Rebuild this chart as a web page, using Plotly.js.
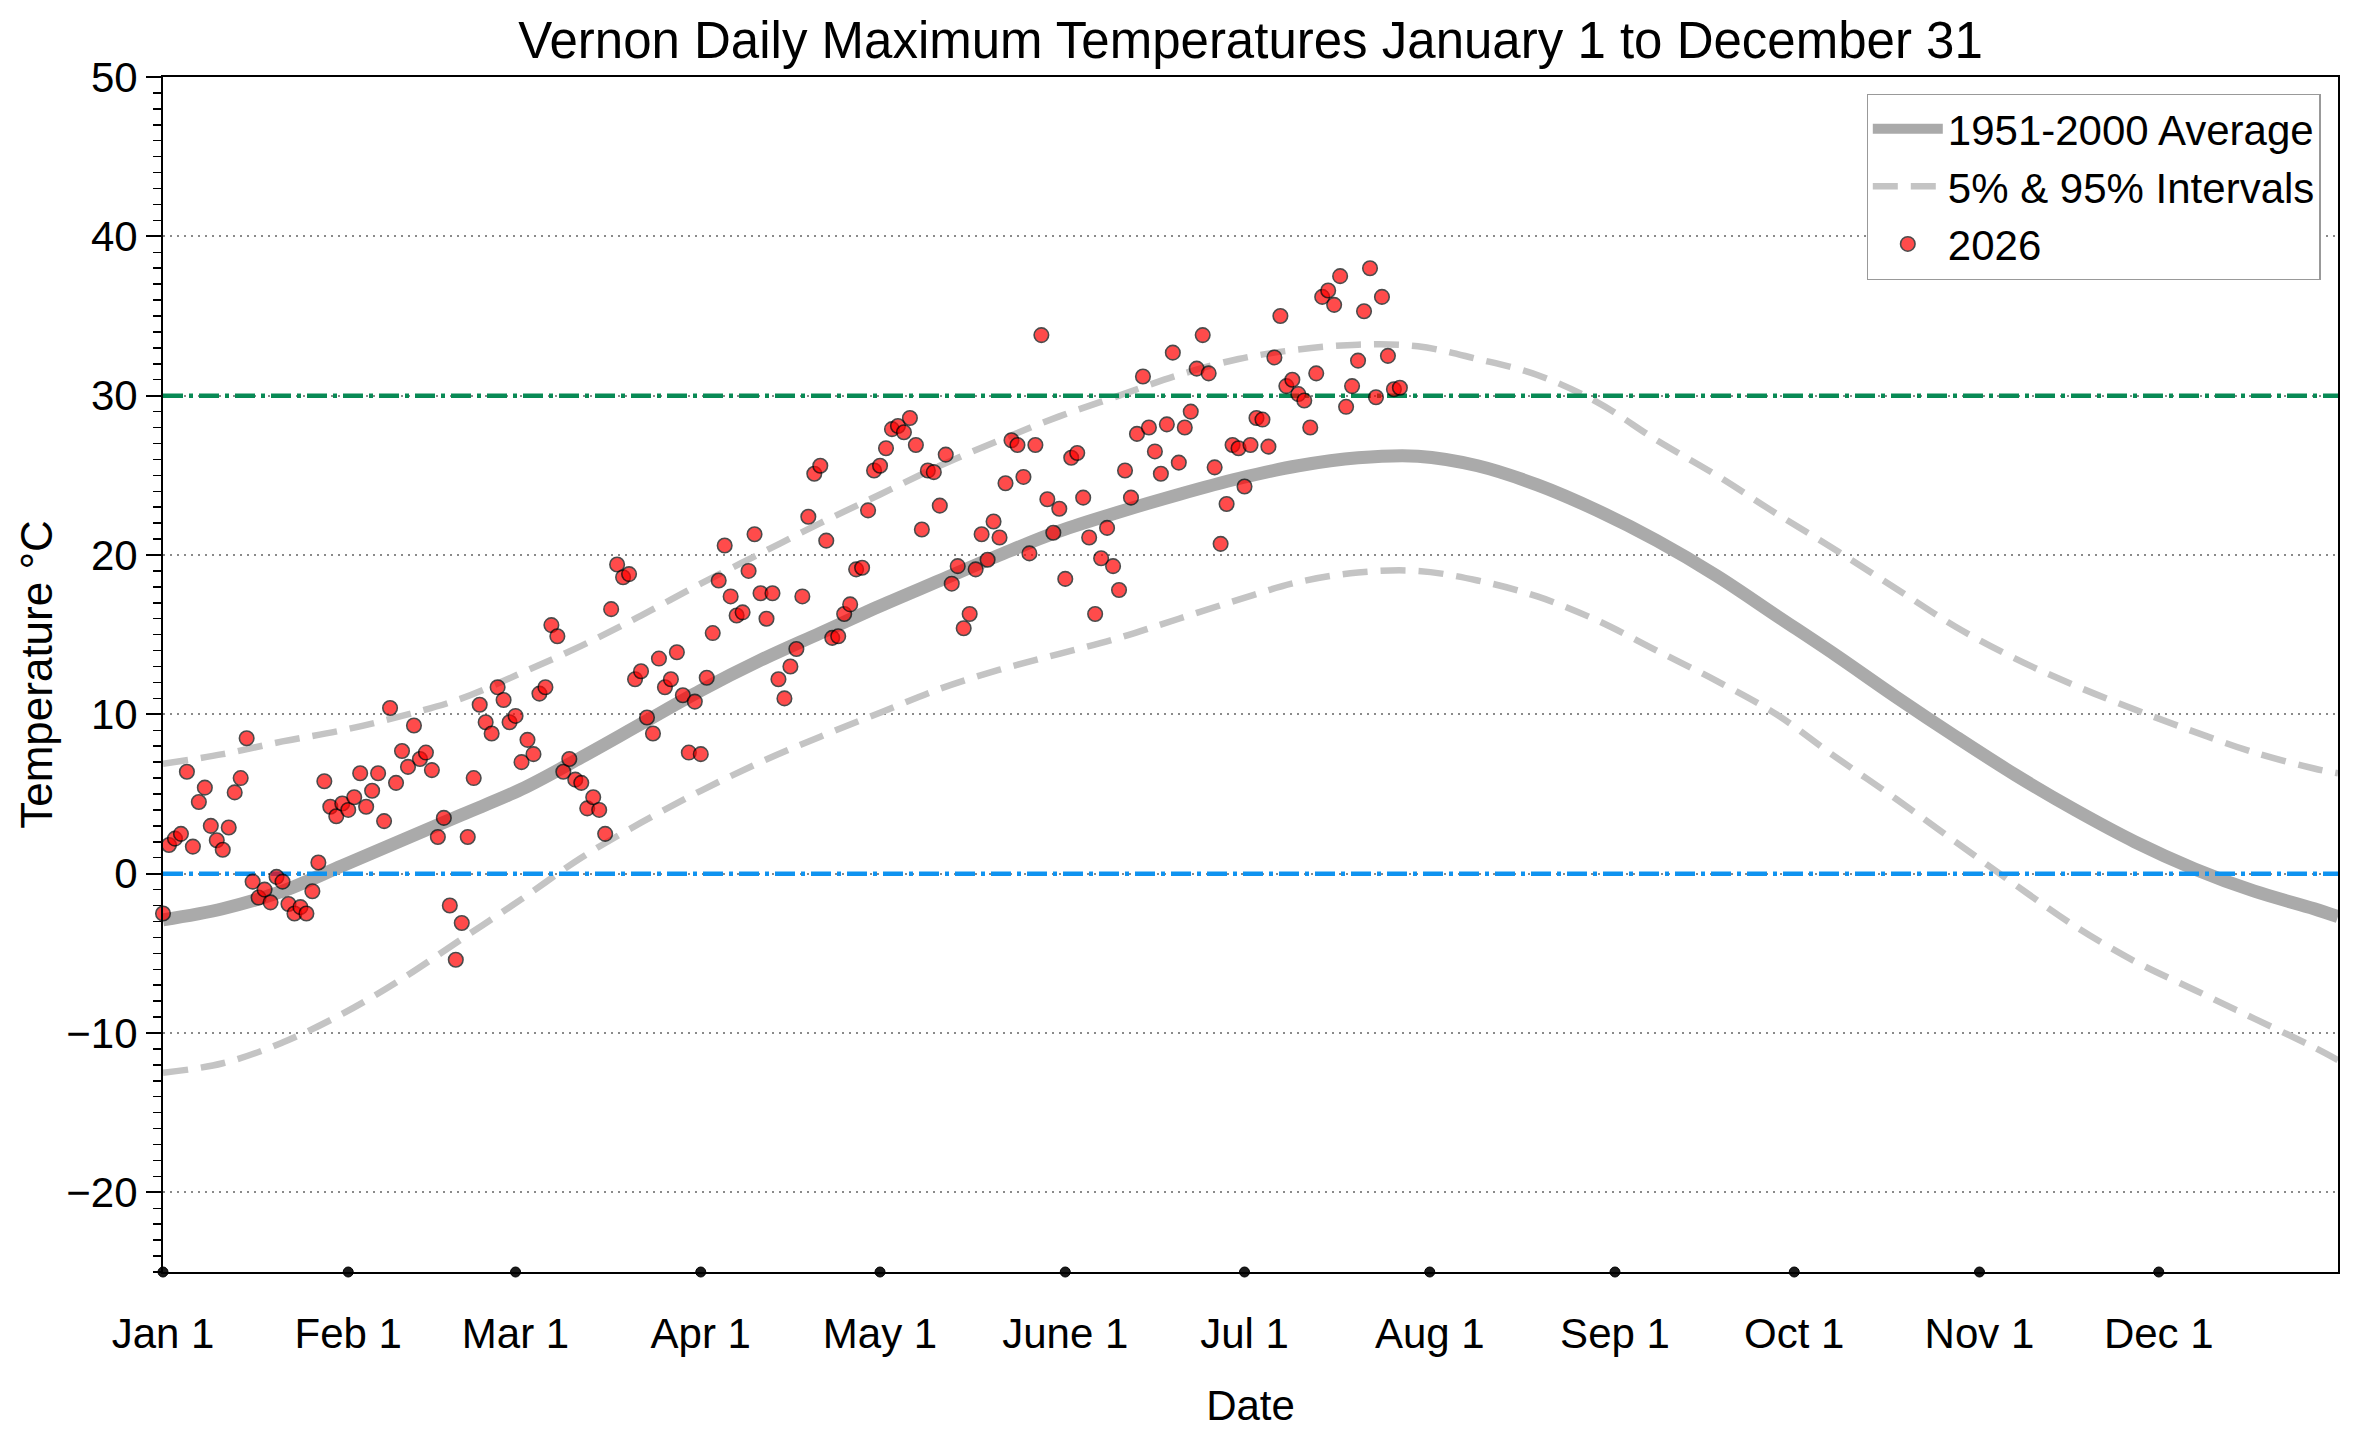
<!DOCTYPE html>
<html>
<head>
<meta charset="utf-8">
<script src="https://cdn.plot.ly/plotly-3.0.1.min.js"></script>
<style>html,body{margin:0;padding:0;background:#fff;}#chart{width:2360px;height:1432px;}</style>
</head>
<body>
<div id="chart"></div>
<script>
// ---- data ----
const tickDays = [0, 31, 59, 90, 120, 151, 181, 212, 243, 273, 304, 334];
const tickLabels = ["Jan 1", "Feb 1", "Mar 1", "Apr 1", "May 1", "June 1", "Jul 1", "Aug 1", "Sep 1", "Oct 1", "Nov 1", "Dec 1"];

const curveDays = [0, 10, 20, 30, 40, 50, 60, 70, 80, 90, 100, 110, 120, 130, 140, 150, 160, 170, 180, 190,
  200, 210, 220, 230, 240, 250, 260, 270, 280, 290, 300, 310, 320, 330, 340, 350, 360, 364];
const avgTemps = [-2.9, -2.2, -1.1, 0.5, 2.1, 3.7, 5.3, 7.3, 9.4, 11.5, 13.4, 15.1, 16.8, 18.4, 20.0, 21.5, 22.7, 23.8, 24.8, 25.6,
  26.1, 26.2, 25.6, 24.4, 22.8, 20.9, 18.7, 16.2, 13.7, 11.1, 8.6, 6.2, 4.0, 2.0, 0.3, -1.1, -2.2, -2.7];
const p95Temps = [6.9, 7.5, 8.3, 9.0, 9.9, 11.0, 12.6, 14.3, 16.2, 18.2, 20.1, 22.0, 23.8, 25.6, 27.2, 28.7, 30.0, 31.3, 32.3, 32.9,
  33.2, 33.1, 32.3, 31.3, 29.6, 27.2, 25.0, 22.6, 20.3, 17.9, 15.5, 13.5, 11.8, 10.3, 8.9, 7.6, 6.6, 6.3];
const p5Temps = [-12.5, -11.9, -10.6, -8.8, -6.6, -4.1, -1.6, 1.0, 3.2, 5.2, 7.0, 8.6, 10.1, 11.6, 12.8, 13.8, 14.8, 16.0, 17.2, 18.3,
  18.9, 19.0, 18.4, 17.4, 15.9, 14.0, 12.1, 10.0, 7.3, 4.7, 2.0, -0.7, -3.3, -5.5, -7.3, -9.1, -10.9, -11.7];

// 2026 daily maxima, Jan 1 (day 0) onward
const temps2026 = [
  -2.5, 1.8, 2.2, 2.5, 6.4, 1.7, 4.5, 5.4, 3.0, 2.1,
  1.5, 2.9, 5.1, 6.0, 8.5, -0.5, -1.5, -1.0, -1.8, -0.2,
  -0.5, -1.9, -2.5, -2.1, -2.5, -1.1, 0.7, 5.8, 4.2, 3.6,
  4.4, 4.0, 4.8, 6.3, 4.2, 5.2, 6.3, 3.3, 10.4, 5.7,
  7.7, 6.7, 9.3, 7.2, 7.6, 6.5, 2.3, 3.5, -2.0, -5.4,
  -3.1, 2.3, 6.0, 10.6, 9.5, 8.8, 11.7, 10.9, 9.5, 9.9,
  7.0, 8.4, 7.5, 11.3, 11.7, 15.6, 14.9, 6.4, 7.2, 5.9,
  5.7, 4.1, 4.8, 4.0, 2.5, 16.6, 19.4, 18.6, 18.8, 12.2,
  12.7, 9.8, 8.8, 13.5, 11.7, 12.2, 13.9, 11.2, 7.6, 10.8,
  7.5, 12.3, 15.1, 18.4, 20.6, 17.4, 16.2, 16.4, 19.0, 21.3,
  17.6, 16.0, 17.6, 12.2, 11.0, 13.0, 14.1, 17.4, 22.4, 25.1,
  25.6, 20.9, 14.8, 14.9, 16.3, 16.9, 19.1, 19.2, 22.8, 25.3,
  25.6, 26.7, 27.9, 28.1, 27.7, 28.6, 26.9, 21.6, 25.3, 25.2,
  23.1, 26.3, 18.2, 19.3, 15.4, 16.3, 19.1, 21.3, 19.7, 22.1,
  21.1, 24.5, 27.2, 26.9, 24.9, 20.1, 26.9, 33.8, 23.5, 21.4,
  22.9, 18.5, 26.1, 26.4, 23.6, 21.1, 16.3, 19.8, 21.7, 19.3,
  17.8, 25.3, 23.6, 27.6, 31.2, 28.0, 26.5, 25.1, 28.2, 32.7,
  25.8, 28.0, 29.0, 31.7, 33.8, 31.4, 25.5, 20.7, 23.2, 26.9,
  26.7, 24.3, 26.9, 28.6, 28.5, 26.8, 32.4, 35.0, 30.6, 31.0,
  30.1, 29.7, 28.0, 31.4, 36.2, 36.6, 35.7, 37.5, 29.3, 30.6,
  32.2, 35.3, 38.0, 29.9, 36.2, 32.5, 30.4, 30.5
];
const days2026 = temps2026.map((_, i) => i);

const freezeLevel = 0;
const hotLevel = 30;
const xRange = [0, 364];
const yRange = [-25, 50];

// ---- styling ----
const FONT = '"Liberation Sans", Arial, Helvetica, sans-serif';

const traces = [
  {
    x: curveDays, y: avgTemps, type: 'scatter', mode: 'lines',
    name: '1951-2000 Average', legendrank: 1,
    line: {color: '#aaaaaa', width: 13, shape: 'spline', smoothing: 1}
  },
  {
    x: curveDays, y: p95Temps, type: 'scatter', mode: 'lines',
    name: '5% & 95% Intervals', legendgroup: 'int', legendrank: 2,
    line: {color: '#c4c4c4', width: 6.5, dash: '25px,13px', shape: 'spline', smoothing: 1}
  },
  {
    x: curveDays, y: p5Temps, type: 'scatter', mode: 'lines',
    name: '5% Interval', legendgroup: 'int', showlegend: false,
    line: {color: '#c4c4c4', width: 6.5, dash: '25px,13px', shape: 'spline', smoothing: 1}
  },
  {
    x: xRange, y: [hotLevel, hotLevel], type: 'scatter', mode: 'lines', showlegend: false,
    line: {color: '#088a55', width: 4.5, dash: '20px,6px,4px,6px'}
  },
  {
    x: xRange, y: [freezeLevel, freezeLevel], type: 'scatter', mode: 'lines', showlegend: false,
    line: {color: '#0f93f0', width: 4.5, dash: '20px,6px,4px,6px'}
  },
  {
    x: days2026, y: temps2026, type: 'scatter', mode: 'markers',
    name: '2026', legendrank: 3, cliponaxis: false,
    marker: {color: 'red', size: 14.5, opacity: 0.7, line: {color: 'black', width: 1.6}}
  },
  {
    x: tickDays, y: tickDays.map(() => yRange[0]), type: 'scatter', mode: 'markers',
    showlegend: false, cliponaxis: false,
    marker: {color: '#1a1a1a', size: 10, line: {color: 'black', width: 1}}
  }
];

const layout = {
  width: 2360, height: 1432,
  paper_bgcolor: 'white', plot_bgcolor: 'white',
  margin: {l: 163, r: 22, t: 77, b: 160, pad: 0},
  font: {family: FONT, color: 'black', size: 42},
  hovermode: false,
  title: {
    text: 'Vernon Daily Maximum Temperatures January 1 to December 31',
    font: {family: FONT, size: 51, color: 'black'},
    x: 0.5, xref: 'paper', xanchor: 'center',
    y: 0.972, yref: 'container', yanchor: 'middle'
  },
  xaxis: {
    range: xRange, tickmode: 'array', tickvals: tickDays, ticktext: tickLabels,
    showgrid: false, zeroline: false,
    showline: true, mirror: true, linecolor: 'black', linewidth: 2,
    ticks: 'outside', ticklen: 24, tickcolor: 'rgba(0,0,0,0)',
    tickfont: {family: FONT, size: 42, color: 'black'},
    title: {text: 'Date', font: {family: FONT, size: 42, color: 'black'}, standoff: 34},
    automargin: false, fixedrange: true
  },
  yaxis: {
    range: yRange, tick0: 0, dtick: 10,
    showgrid: true, gridcolor: '#8a8a8a', gridwidth: 2, griddash: '2px,5px',
    zeroline: false,
    showline: true, mirror: true, linecolor: 'black', linewidth: 2,
    ticks: 'outside', ticklen: 15, tickwidth: 2, tickcolor: 'black',
    minor: {dtick: 1, ticks: 'outside', ticklen: 8, tickwidth: 1.5, tickcolor: 'black', showgrid: false},
    tickfont: {family: FONT, size: 42, color: 'black'},
    title: {text: 'Temperature °C', font: {family: FONT, size: 44, color: 'black'}, standoff: 0},
    automargin: false, fixedrange: true
  },
  legend: {
    x: 0.992, xanchor: 'right', y: 0.986, yanchor: 'top',
    bgcolor: 'white', bordercolor: '#999999', borderwidth: 1.2,
    font: {family: FONT, size: 42, color: 'black'},
    itemwidth: 70,
    tracegroupgap: 0
  }
};

Plotly.newPlot('chart', traces, layout, {staticPlot: true, displayModeBar: false});
</script>
</body>
</html>
